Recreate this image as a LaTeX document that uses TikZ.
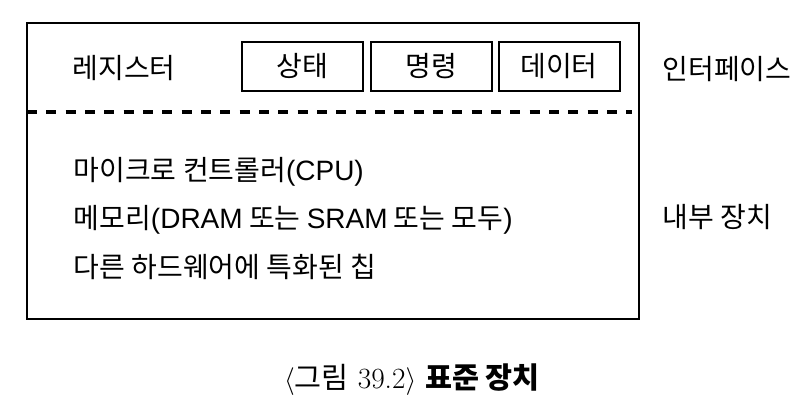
\documentclass[tikz,border=0pt]{standalone}
\usepackage{fontspec}
\newfontfamily\kr{Noto Sans CJK KR}
\newfontfamily\en{Liberation Sans}
\usepackage{tikz}

\begin{document}
\begin{tikzpicture}[x=0.75pt, y=-0.75pt,
    lbl/.style={font=\kr\fontsize{21}{25}\selectfont},
    reg/.style={draw, line width=1.5pt, minimum width=121*0.75pt, minimum height=49*0.75pt, inner sep=0pt, lbl}]
    \useasboundingbox (0, 0) rectangle (808, 412);

    % 바깥 상자
    \draw[line width=1.6pt] (27, 23) rectangle (639, 319);
    \coordinate (dl) at (27, 112);
    \coordinate (dr) at (632, 112);
    \draw[line width=2.3pt, dash pattern=on 7.5pt off 7pt] (dl) -- (dr);

    % 레지스터
    \node[lbl] (R) at (124, 68) {레지스터};
    \node[reg] (S) at (302, 66.5) {상태};
    \node[reg] (C) at (431, 66.5) {명령};
    \node[reg] (D) at (559, 66.5) {데이터};

    % 내부 장치
    \node[lbl, anchor=west] (P) at (69, 172) {마이크로 컨트롤러{\en (CPU)}};
    \node[lbl, anchor=west] (M) at (69, 220) {메모리{\en (DRAM} 또는 {\en SRAM} 또는 모두{\en )}};
    \node[lbl, anchor=west] (H) at (69, 267) {다른 하드웨어에 특화된 칩};

    % 오른쪽 설명
    \node[lbl, anchor=west] (I) at (658, 69) {인터페이스};
    \node[lbl, anchor=west] (N) at (658, 217) {내부 장치};

    % 그림 제목
    \node[font=\fontsize{22}{26}\selectfont] (T) at (412, 380)
        {$\langle${\kr 그림} 39.2$\rangle$ {\kr\bfseries 표준 장치}};
\end{tikzpicture}
\end{document}
